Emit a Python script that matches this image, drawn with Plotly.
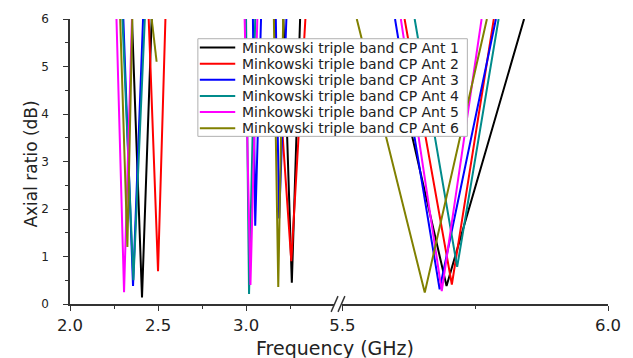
import plotly.graph_objects as go

# ---- data: axial ratio (dB) vs frequency (GHz), three bands per antenna ----
names = [
    "Minkowski triple band CP Ant 1",
    "Minkowski triple band CP Ant 2",
    "Minkowski triple band CP Ant 3",
    "Minkowski triple band CP Ant 4",
    "Minkowski triple band CP Ant 5",
    "Minkowski triple band CP Ant 6",
]
colors = ["#000000", "#ff0000", "#0000ff", "#008b8b", "#ff00ff", "#808000"]

# lower two bands (2.0 - 3.5 GHz); None separates the bands
ant1_low_f = [2.352, 2.409, 2.464, None, 3.212, 3.260, 3.307]
ant1_low_ar = [6, 0.14, 6, None, 6, 0.45, 6]
ant2_low_f = [2.447, 2.500, 2.542, None, 3.162, 3.257, 3.337]
ant2_low_ar = [6, 0.69, 6, None, 6, 0.90, 6]
ant3_low_f = [2.303, 2.358, 2.415, None, 3.039, 3.052, 3.085, None, 3.169, 3.188, 3.229]
ant3_low_ar = [6, 0.38, 6, None, 6, 1.65, 6, None, 6, 1.8, 6]
ant4_low_f = [2.298, 2.360, 2.425, None, 3.000, 3.017, 3.052]
ant4_low_ar = [6, 0.50, 6, None, 6, 0.21, 6]
ant5_low_f = [2.264, 2.307, 2.352, None, 2.992, 3.025, 3.064]
ant5_low_ar = [6, 0.25, 6, None, 6, 0.40, 6]
ant6_low_f = [2.285, 2.326, 2.354, None, 2.464, 2.492, None, 3.158, 3.183, 3.211]
ant6_low_ar = [6, 1.20, 6, None, 6, 5.10, None, 6, 0.36, 6]

# upper band (5.5 - 6.0 GHz)
ant1_high_f = [5.600, 5.696, 5.842]
ant1_high_ar = [5.05, 0.38, 6]
ant2_high_f = [5.617, 5.706, 5.785]
ant2_high_ar = [6, 0.41, 6]
ant3_high_f = [5.599, 5.683, 5.789]
ant3_high_ar = [6, 0.31, 6]
ant4_high_f = [5.636, 5.716, 5.794]
ant4_high_ar = [6, 0.78, 6]
ant5_high_f = [5.610, 5.687, 5.762]
ant5_high_ar = [6, 0.27, 6]
ant6_high_f = [5.527, 5.655, 5.772]
ant6_high_ar = [6, 0.24, 6]

low_f = [ant1_low_f, ant2_low_f, ant3_low_f, ant4_low_f, ant5_low_f, ant6_low_f]
low_ar = [ant1_low_ar, ant2_low_ar, ant3_low_ar, ant4_low_ar, ant5_low_ar, ant6_low_ar]
high_f = [ant1_high_f, ant2_high_f, ant3_high_f, ant4_high_f, ant5_high_f, ant6_high_f]
high_ar = [ant1_high_ar, ant2_high_ar, ant3_high_ar, ant4_high_ar, ant5_high_ar, ant6_high_ar]

x_left_ticks = [2.0, 2.5, 3.0]
x_left_minor = [2.25, 2.75, 3.25]
x_right_ticks = [5.5, 6.0]
x_right_minor = [5.75]
y_ticks = [0, 1, 2, 3, 4, 5, 6]

# ---- page geometry ----
W, H = 633, 358
ML, MR, MT, MB = 70, 16, 15, 54
PW, PH = W - ML - MR, H - MT - MB


def px(xp):
    return (xp - ML) / PW


def py(yp):
    return (H - MB - yp) / PH


FONT = "DejaVu Sans, Verdana, sans-serif"
TXT = "#222222"
AXC = "#333333"
LW = 2.0

fig = go.Figure()
for i in range(6):
    fig.add_trace(go.Scatter(x=low_f[i], y=low_ar[i], mode="lines", xaxis="x", yaxis="y",
                             line=dict(color=colors[i], width=LW), showlegend=False,
                             connectgaps=False, name=names[i]))
    fig.add_trace(go.Scatter(x=high_f[i], y=high_ar[i], mode="lines", xaxis="x2", yaxis="y",
                             line=dict(color=colors[i], width=LW), showlegend=False,
                             name=names[i]))

xcommon = dict(showline=True, linecolor=AXC, linewidth=1.5, ticks="outside", ticklen=5,
               tickwidth=1.3, tickcolor=AXC, showgrid=False, zeroline=False,
               tickfont=dict(family=FONT, size=16.5, color=TXT), tickformat=".1f")

fig.update_layout(
    width=W, height=H,
    margin=dict(l=ML, r=MR, t=MT, b=MB),
    paper_bgcolor="white", plot_bgcolor="white",
    xaxis=dict(domain=[0, px(338.5)], range=[2.0, 3.5], tickvals=x_left_ticks,
               minor=dict(tickvals=x_left_minor, ticks="outside", ticklen=3, tickcolor=AXC),
               anchor="y", **xcommon),
    xaxis2=dict(domain=[px(347), 1], range=[5.5, 6.0], tickvals=x_right_ticks,
                minor=dict(tickvals=x_right_minor, ticks="outside", ticklen=3, tickcolor=AXC),
                anchor="y", **xcommon),
    yaxis=dict(range=[0, 6], tickvals=y_ticks, showline=True, linecolor=AXC, linewidth=1.5,
               ticks="outside", ticklen=5, tickwidth=1.3, tickcolor=AXC,
               minor=dict(dtick=0.5, ticks="outside", ticklen=3, tickcolor=AXC),
               showgrid=False, zeroline=False, ticklabelstandoff=12,
               tickfont=dict(family=FONT, size=12, color=TXT)),
)

# axis titles
fig.add_annotation(text="Axial ratio (dB)", xref="paper", yref="paper", x=px(30), y=py(162),
                   xanchor="center", yanchor="middle", textangle=-90, showarrow=False,
                   font=dict(family=FONT, size=17, color=TXT))
fig.add_annotation(text="Frequency (GHz)", xref="paper", yref="paper", x=px(339), y=py(349),
                   xanchor="center", yanchor="middle", showarrow=False,
                   font=dict(family=FONT, size=19, color=TXT))

# axis break marks "//"
for cx in (339, 346):
    fig.add_shape(type="line", xref="paper", yref="paper",
                  x0=px(cx - 3.5), y0=py(312), x1=px(cx + 3.5), y1=py(296),
                  line=dict(color=AXC, width=1.4))

# legend box
fig.add_shape(type="rect", xref="paper", yref="paper", x0=px(200), x1=px(474),
              y0=py(134), y1=py(35), fillcolor="white", line=dict(color="#b0b0b0", width=1),
              layer="above")
row0, step = 44, 16.35
for i in range(6):
    yr = row0 + i * step
    fig.add_shape(type="line", xref="paper", yref="paper", x0=px(202), x1=px(238),
                  y0=py(yr), y1=py(yr), line=dict(color=colors[i], width=2), layer="above")
    fig.add_annotation(text=names[i], xref="paper", yref="paper", x=px(243), y=py(yr),
                       xanchor="left", yanchor="middle", showarrow=False,
                       font=dict(family=FONT, size=14, color=TXT))

fig.write_html("out.html")
